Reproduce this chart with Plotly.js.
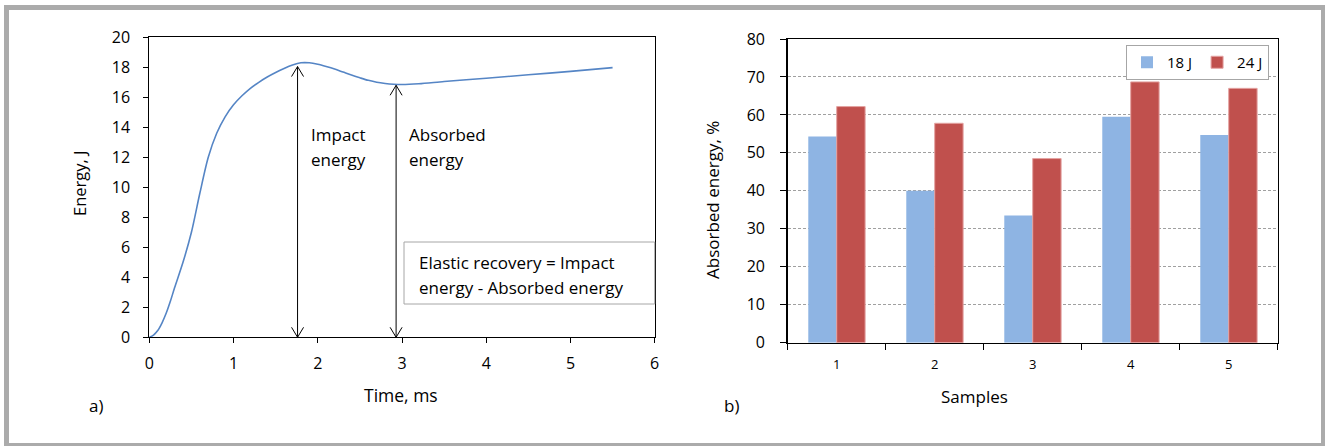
<!DOCTYPE html>
<html>
<head>
<meta charset="utf-8">
<script src="https://cdn.plot.ly/plotly-3.0.1.min.js"></script>
<style>html,body{margin:0;padding:0;background:#fff;}#chart{width:1326px;height:446px;}</style>
</head>
<body>
<div id="chart"></div>
<script>
// ---- Panel a) energy vs time ----
const timeMs = [0,0.05,0.1,0.15,0.2,0.25,0.3,0.4,0.5,0.6,0.7,0.8,0.9,1.0,1.1,1.2,1.3,1.4,1.5,1.6,1.7,1.8,1.9,2.0,2.1,2.2,2.3,2.4,2.5,2.6,2.7,2.8,2.9,3.0,3.2,3.5,4.0,4.5,5.0,5.5];
const energyJ = [0,0.15,0.45,0.95,1.6,2.4,3.3,5.0,7.0,9.6,12.0,13.6,14.7,15.5,16.1,16.6,17.0,17.35,17.65,17.92,18.15,18.3,18.3,18.2,18.05,17.88,17.68,17.48,17.3,17.13,17.0,16.92,16.87,16.85,16.9,17.05,17.27,17.5,17.73,17.98];
const arrowTimes = [1.76, 2.93];
const arrowTops = [18.05, 16.8];
const arrowLabelLines = [["Impact", "energy"], ["Absorbed", "energy"]];
const noteLines = ["Elastic recovery = Impact", "energy - Absorbed energy"];

// ---- Panel b) absorbed energy ----
const samples = ["1","2","3","4","5"];
const absorbed18J = [54.3, 40.0, 33.5, 59.5, 54.7];
const absorbed24J = [62.2, 57.8, 48.5, 68.7, 67.0];
const seriesNames = ["18 J", "24 J"];

const W = 1326, H = 446;
const px = v => v / W;          // pixel -> paper x
const py = v => 1 - v / H;      // pixel -> paper y
const FONT = "'Open Sans', 'Liberation Sans', sans-serif";

// Axis pixel geometry
const ax = {x0:149.3, x1:654.7, y0:337.3, y1:37.3};
const bx = {x0:787.7, x1:1277.7, y0:342.7, y1:39};

const xUnit = (ax.x1 - ax.x0) / 6;   // px per ms
const yUnit = (ax.y0 - ax.y1) / 20;  // px per J
const headDx = 6 / xUnit, headDy = 10 / yUnit;

const traces = [];
traces.push({
  x: timeMs, y: energyJ, type: 'scatter', mode: 'lines',
  line: {color: '#5585C5', width: 1.6, shape: 'spline', smoothing: 0.8},
  xaxis: 'x', yaxis: 'y', showlegend: false, hoverinfo: 'skip'
});

// double arrows built from arrow arrays
const arrowShapes = [];
arrowTimes.forEach((t, i) => {
  const top = arrowTops[i];
  const mk = (x0, y0, x1, y1) => ({type:'line', xref:'x', yref:'y', x0, y0, x1, y1, line:{color:'#000', width:1}});
  arrowShapes.push(mk(t, 0, t, top));
  arrowShapes.push(mk(t, top, t - headDx, top - headDy));
  arrowShapes.push(mk(t, top, t + headDx, top - headDy));
  arrowShapes.push(mk(t, 0, t - headDx, headDy));
  arrowShapes.push(mk(t, 0, t + headDx, headDy));
});

traces.push({
  x: samples, y: absorbed18J, type: 'bar', name: seriesNames[0],
  marker: {color: '#8EB4E3', line:{color:'#8EB4E3', width:0}}, xaxis: 'x2', yaxis: 'y2', hoverinfo: 'skip'
});
traces.push({
  x: samples, y: absorbed24J, type: 'bar', name: seriesNames[1],
  marker: {color: '#C0504D', line:{color:'#E4A3A2', width:1}}, xaxis: 'x2', yaxis: 'y2', hoverinfo: 'skip'
});

const frameColor = '#ABABAB';
const shapes = [
  // outer gray frame
  {type:'rect', xref:'paper', yref:'paper', x0:px(4), x1:px(9), y0:py(446), y1:py(5), fillcolor:frameColor, line:{width:0}},
  {type:'rect', xref:'paper', yref:'paper', x0:px(4), x1:px(1325), y0:py(10), y1:py(5), fillcolor:frameColor, line:{width:0}},
  {type:'rect', xref:'paper', yref:'paper', x0:px(1321), x1:px(1325), y0:py(446), y1:py(5), fillcolor:frameColor, line:{width:0}},
  {type:'rect', xref:'paper', yref:'paper', x0:px(4), x1:px(1325), y0:py(446), y1:py(443), fillcolor:frameColor, line:{width:0}},
  // note box in panel a
  {type:'rect', xref:'paper', yref:'paper', x0:px(404), x1:px(654.7), y0:py(304), y1:py(242), fillcolor:'#fff', line:{color:'#A6A6A6', width:1}}
].concat(arrowShapes);

const txt = (text, x, y, size, extra) => Object.assign({text, xref:'paper', yref:'paper', x:px(x), y:py(y),
  xanchor:'center', yanchor:'middle', showarrow:false, font:{size}}, extra || {});

const annotations = [
  txt('Energy, J', 80, 183, 16.5, {textangle:-90}),
  txt('Time, ms', 401, 395, 17.5),
  txt('a)', 96, 405, 17),
  txt(noteLines[0], 417, 262, 17, {xanchor:'left'}),
  txt(noteLines[1], 417, 287, 17, {xanchor:'left'}),
  txt('Absorbed energy, %', 713, 200, 17, {textangle:-90}),
  txt('Samples', 974, 396, 17),
  txt('b)', 731, 405, 17)
];
arrowTimes.forEach((t, i) => {
  const xp = ax.x0 + t * xUnit + 11;
  annotations.push(txt(arrowLabelLines[i][0], xp, 134, 17, {xanchor:'left'}));
  annotations.push(txt(arrowLabelLines[i][1], xp, 160, 17, {xanchor:'left'}));
});

const layout = {
  width: W, height: H,
  margin: {l:0, r:0, t:0, b:0},
  paper_bgcolor: '#fff', plot_bgcolor: '#fff',
  font: {family: FONT, color: '#000', size: 15},
  showlegend: true,
  legend: {orientation:'h', x:px(1269), y:py(45), xanchor:'right', yanchor:'top',
           bordercolor:'#A6A6A6', borderwidth:1, bgcolor:'#fff', font:{size:15},
           itemwidth:30, tracegroupgap:0},
  barmode: 'group', bargap: 0.42, bargroupgap: 0,
  xaxis: {domain:[px(ax.x0), px(ax.x1)], range:[0,6], dtick:1, tick0:0, showgrid:false, zeroline:false,
          showline:true, linecolor:'#000', linewidth:1, mirror:true, ticks:'outside', ticklen:5, tickcolor:'#000',
          tickfont:{size:16}, ticklabelstandoff:6, anchor:'y', fixedrange:true},
  yaxis: {domain:[py(ax.y0), py(ax.y1)], range:[0,20], dtick:2, tick0:0, showgrid:false, zeroline:false,
          showline:true, linecolor:'#000', linewidth:1, mirror:true, ticks:'outside', ticklen:5, tickcolor:'#000',
          tickfont:{size:16}, ticklabelstandoff:10, anchor:'x', fixedrange:true},
  xaxis2: {domain:[px(bx.x0), px(bx.x1)], type:'category', showgrid:false, zeroline:false,
           showline:true, linecolor:'#000', linewidth:1.5, mirror:true, ticks:'outside', tickson:'boundaries', ticklen:6, tickcolor:'#000',
           tickfont:{size:13}, ticklabelstandoff:9, anchor:'y2', fixedrange:true},
  yaxis2: {domain:[py(bx.y0), py(bx.y1)], range:[0,80], dtick:10, tick0:0, showgrid:true, gridcolor:'#A0A0A0', griddash:'3px,2px', gridwidth:1,
           zeroline:false, showline:true, linecolor:'#000', linewidth:1.5, mirror:true, ticks:'outside', ticklen:6, tickcolor:'#000',
           tickfont:{size:16}, ticklabelstandoff:12, anchor:'x2', fixedrange:true},
  shapes: shapes,
  annotations: annotations
};

Plotly.newPlot('chart', traces, layout, {displayModeBar:false, staticPlot:true});
</script>
</body>
</html>
